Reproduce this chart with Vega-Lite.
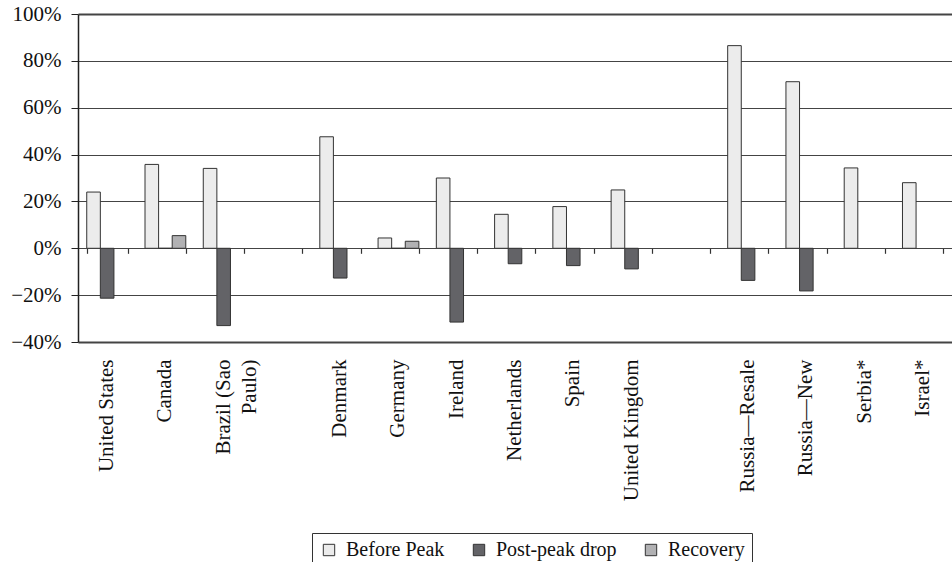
{
  "$schema": "https://vega.github.io/schema/vega-lite/v6.json",
  "autosize": "none",
  "width": 874,
  "height": 328,
  "padding": {"left": 78, "top": 14, "right": 0, "bottom": 220},
  "background": "white",
  "config": {
    "view": {"stroke": null},
    "font": "'Liberation Serif', 'Times New Roman', 'DejaVu Serif', serif",
    "axis": {"labelFont": "'Liberation Serif', 'Times New Roman', 'DejaVu Serif', serif", "labelColor": "#111"},
    "legend": {"labelFont": "'Liberation Serif', 'Times New Roman', 'DejaVu Serif', serif", "labelColor": "#111"}
  },
  "data": {
    "values": [
      {"country": "United States", "series": "Before Peak", "value": 0.24},
      {"country": "United States", "series": "Post-peak drop", "value": -0.213},
      {"country": "Canada", "series": "Before Peak", "value": 0.358},
      {"country": "Canada", "series": "Post-peak drop", "value": 0},
      {"country": "Canada", "series": "Recovery", "value": 0.054},
      {"country": "Brazil (Sao Paulo)", "series": "Before Peak", "value": 0.341},
      {"country": "Brazil (Sao Paulo)", "series": "Post-peak drop", "value": -0.33},
      {"country": "Denmark", "series": "Before Peak", "value": 0.476},
      {"country": "Denmark", "series": "Post-peak drop", "value": -0.127},
      {"country": "Germany", "series": "Before Peak", "value": 0.044},
      {"country": "Germany", "series": "Post-peak drop", "value": 0},
      {"country": "Germany", "series": "Recovery", "value": 0.03},
      {"country": "Ireland", "series": "Before Peak", "value": 0.3},
      {"country": "Ireland", "series": "Post-peak drop", "value": -0.315},
      {"country": "Netherlands", "series": "Before Peak", "value": 0.145},
      {"country": "Netherlands", "series": "Post-peak drop", "value": -0.066},
      {"country": "Spain", "series": "Before Peak", "value": 0.178},
      {"country": "Spain", "series": "Post-peak drop", "value": -0.074},
      {"country": "United Kingdom", "series": "Before Peak", "value": 0.249},
      {"country": "United Kingdom", "series": "Post-peak drop", "value": -0.088},
      {"country": "Russia—Resale", "series": "Before Peak", "value": 0.865},
      {"country": "Russia—Resale", "series": "Post-peak drop", "value": -0.137},
      {"country": "Russia—New", "series": "Before Peak", "value": 0.711},
      {"country": "Russia—New", "series": "Post-peak drop", "value": -0.182},
      {"country": "Serbia*", "series": "Before Peak", "value": 0.343},
      {"country": "Israel*", "series": "Before Peak", "value": 0.28}
    ]
  },
  "layer": [
    {
      "mark": {"type": "bar", "stroke": "#333", "strokeWidth": 1},
      "encoding": {
        "x": {
          "field": "country",
          "type": "nominal",
          "sort": null,
          "scale": {
            "domain": ["United States", "Canada", "Brazil (Sao Paulo)", "gap1", "Denmark", "Germany", "Ireland", "Netherlands", "Spain", "United Kingdom", "gap2", "Russia—Resale", "Russia—New", "Serbia*", "Israel*"],
            "paddingInner": 0.3,
            "paddingOuter": 0.15
          },
          "axis": {
            "orient": "bottom",
            "title": null,
            "domain": false,
            "ticks": false,
            "tickSize": 0,
            "labelAngle": -90,
            "labelAlign": "right",
            "labelBaseline": "middle",
            "labelFontSize": 21,
            "labelPadding": 17,
            "labelLimit": 400,
            "labelLineHeight": 26,
            "labelExpr": "datum.value == 'Brazil (Sao Paulo)' ? ['Brazil (Sao', 'Paulo)'] : (indexof(datum.value, 'gap') == 0 ? '' : datum.value)"
          }
        },
        "xOffset": {
          "field": "series",
          "type": "nominal",
          "scale": {"domain": ["Before Peak", "Post-peak drop", "Recovery"], "paddingInner": 0, "paddingOuter": 0}
        },
        "y": {
          "field": "value",
          "type": "quantitative",
          "scale": {"domain": [-0.4, 1], "nice": false},
          "axis": {
            "title": null,
            "values": [-0.4, -0.2, 0, 0.2, 0.4, 0.6, 0.8, 1],
            "format": ".0%",
            "labelFontSize": 21,
            "labelPadding": 10,
            "tickSize": 7,
            "tickColor": "#222",
            "domainColor": "#222",
            "domainWidth": 1.5,
            "gridColor": "#444",
            "gridWidth": {"condition": {"test": "datum.value > 0.99 || datum.value < -0.39", "value": 2.2}, "value": 1.1}
          }
        },
        "color": {
          "field": "series",
          "type": "nominal",
          "scale": {"domain": ["Before Peak", "Post-peak drop", "Recovery"], "range": ["#ececec", "#636367", "#b1b1b3"]},
          "legend": {
            "title": null,
            "orient": "none",
            "direction": "horizontal",
            "legendX": 234,
            "legendY": 519,
            "strokeColor": "#333",
            "padding": 7,
            "symbolType": "square",
            "symbolSize": 130,
            "symbolStrokeColor": "#333",
            "symbolStrokeWidth": 1,
            "symbolOpacity": 1,
            "labelFontSize": 20,
            "labelOffset": 7,
            "columnPadding": 24
          }
        }
      }
    },
    {
      "mark": {"type": "rule", "opacity": 0},
      "encoding": {
        "x": {
          "field": "country",
          "type": "nominal",
          "sort": null,
          "scale": {
            "domain": ["United States", "Canada", "Brazil (Sao Paulo)", "gap1", "Denmark", "Germany", "Ireland", "Netherlands", "Spain", "United Kingdom", "gap2", "Russia—Resale", "Russia—New", "Serbia*", "Israel*"],
            "paddingInner": 0.3,
            "paddingOuter": 0.15
          },
          "axis": {
            "orient": "bottom",
            "title": null,
            "domain": false,
            "labels": false,
            "grid": false,
            "ticks": true,
            "tickBand": "extent",
            "tickSize": 5,
            "tickColor": "#333",
            "tickWidth": 1.2,
            "offset": -93.7
          }
        }
      }
    }
  ],
  "resolve": {"axis": {"x": "independent"}}
}
